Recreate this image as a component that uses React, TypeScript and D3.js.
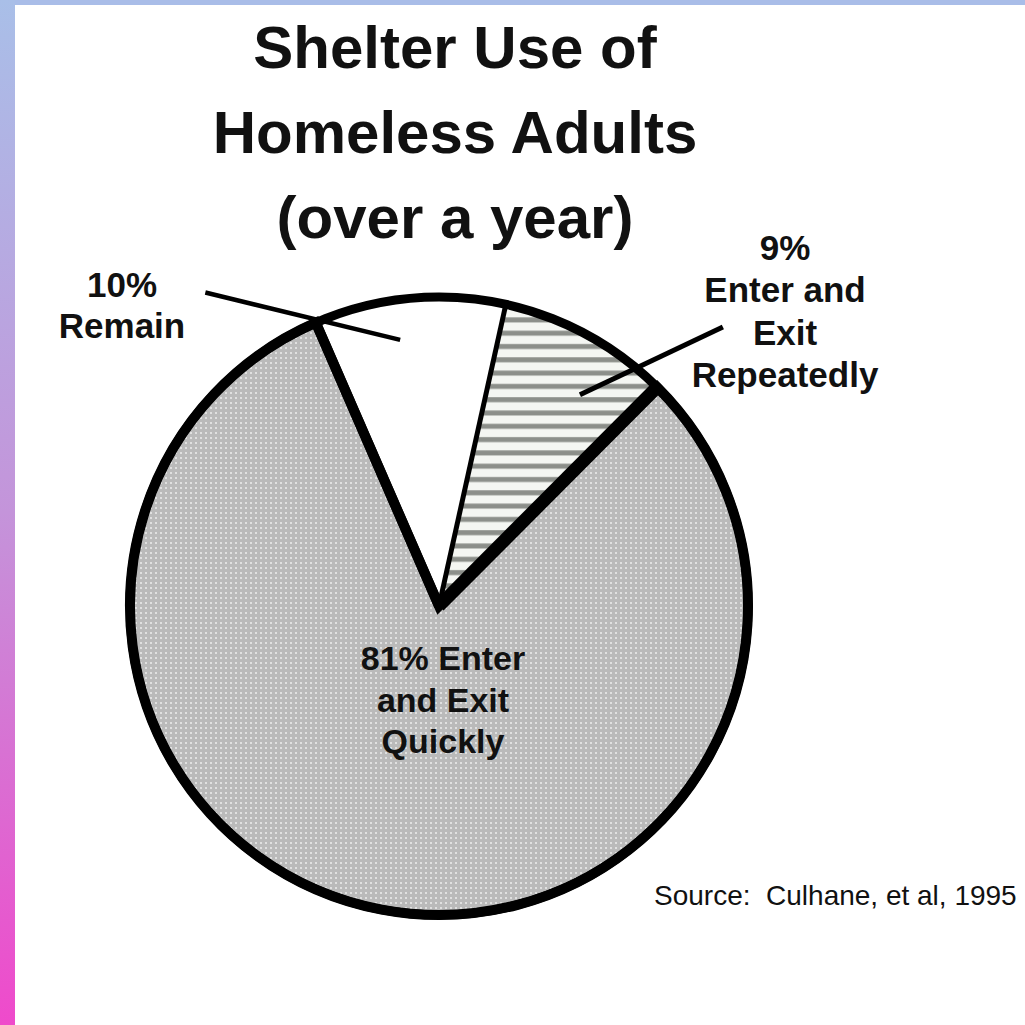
import React from "react";
import * as d3 from "d3";

const categories = ["Remain", "Enter and Exit Repeatedly", "Enter and Exit Quickly"];
const values = [10, 9, 81];
const titleLines = ["Shelter Use of", "Homeless Adults", "(over a year)"];
const remainLabel = ["10%", "Remain"];
const repeatLabel = ["9%", "Enter and", "Exit", "Repeatedly"];
const quickLabel = ["81% Enter", "and Exit", "Quickly"];
const sourceText = "Source:  Culhane, et al, 1995";

const W = 1025;
const H = 1025;
const CX = 439;
const CY = 606;
const R = 309;
const START = (-23.5 * Math.PI) / 180;
const FONT = "'Liberation Sans', Arial, Helvetica, sans-serif";

export default function App() {
  const pie = d3
    .pie<number>()
    .sort(null)
    .value((d) => d)
    .startAngle(START)
    .endAngle(START + 2 * Math.PI);
  const arcs = pie(values);
  const arc = d3.arc<d3.PieArcDatum<number>>().innerRadius(0).outerRadius(R);
  const fills = ["#ffffff", "url(#hatch)", "url(#dots)"];

  const pt = (a: number, r: number) => d3.pointRadial(a, r);
  const deg = (v: number) => (v * Math.PI) / 180;

  const [b0, b1, b2] = [arcs[0].startAngle, arcs[1].startAngle, arcs[2].startAngle];
  const p0 = pt(b0, R);
  const p1 = pt(b1, R);
  const p2 = pt(b2, R);

  const leadRemain = [pt(deg(-36.7), 391), pt(deg(-8.3), 269)];
  const leadRepeat = [pt(deg(45.5), 398), pt(deg(33.7), 254)];

  return (
    <svg
      width={W}
      height={H}
      style={{ position: "absolute", left: 0, top: 0, display: "block" }}
    >
      <defs>
        <linearGradient id="side" x1="0" y1="0" x2="0" y2="1">
          <stop offset="0" stopColor="#a9bfe8" />
          <stop offset="0.5" stopColor="#c494da" />
          <stop offset="1" stopColor="#ef4acb" />
        </linearGradient>
        <pattern id="dots" width="5" height="5" patternUnits="userSpaceOnUse">
          <rect width="5" height="5" fill="#bababa" />
          <rect x="1" y="1" width="2" height="2" fill="#e0e0e0" />
        </pattern>
        <pattern id="hatch" width="13.3" height="13.3" patternUnits="userSpaceOnUse">
          <rect width="13.3" height="13.3" fill="#f4f6f2" />
          <rect y="4" width="13.3" height="5" fill="#8c8f8a" />
        </pattern>
      </defs>
      <rect width={W} height={H} fill="#ffffff" />
      <rect x={0} y={0} width={W} height={5} fill="#a9bde8" />
      <rect x={0} y={0} width={15} height={H} fill="url(#side)" />

      <g fontFamily={FONT} fontWeight="bold" fill="#111" textAnchor="middle" fontSize={60}>
        {titleLines.map((t, i) => (
          <text key={t} x={455} y={68 + i * 85}>
            {t}
          </text>
        ))}
      </g>

      <g transform={`translate(${CX},${CY})`}>
        {arcs.map((a, i) => (
          <path key={categories[i]} d={arc(a) || ""} fill={fills[i]} />
        ))}
        <line x1={0} y1={0} x2={p1[0]} y2={p1[1]} stroke="#000" strokeWidth={5} />
        <path d={arc(arcs[2]) || ""} fill="none" stroke="#000" strokeWidth={10} strokeLinejoin="miter" />
        <line x1={0} y1={0} x2={p2[0]} y2={p2[1]} stroke="#000" strokeWidth={13} />
        <line x1={0} y1={0} x2={p0[0]} y2={p0[1]} stroke="#000" strokeWidth={10} />
        <circle r={R} fill="none" stroke="#000" strokeWidth={9} />
        <line
          x1={leadRemain[0][0]}
          y1={leadRemain[0][1]}
          x2={leadRemain[1][0]}
          y2={leadRemain[1][1]}
          stroke="#000"
          strokeWidth={4.5}
        />
        <line
          x1={leadRepeat[0][0]}
          y1={leadRepeat[0][1]}
          x2={leadRepeat[1][0]}
          y2={leadRepeat[1][1]}
          stroke="#000"
          strokeWidth={5}
        />
      </g>

      <g fontFamily={FONT} fontWeight="bold" fill="#111" textAnchor="middle">
        {remainLabel.map((t, i) => (
          <text key={t} x={122} y={297 + i * 41} fontSize={35}>
            {t}
          </text>
        ))}
        {repeatLabel.map((t, i) => (
          <text key={t} x={785} y={260 + i * 42.3} fontSize={35}>
            {t}
          </text>
        ))}
        {quickLabel.map((t, i) => (
          <text key={t} x={443} y={670 + i * 41.5} fontSize={34}>
            {t}
          </text>
        ))}
      </g>

      <text
        x={654}
        y={905}
        fontFamily={FONT}
        fontSize={28}
        fill="#111"
        style={{ whiteSpace: "pre" }}
        xmlSpace="preserve"
      >
        {sourceText}
      </text>
    </svg>
  );
}
